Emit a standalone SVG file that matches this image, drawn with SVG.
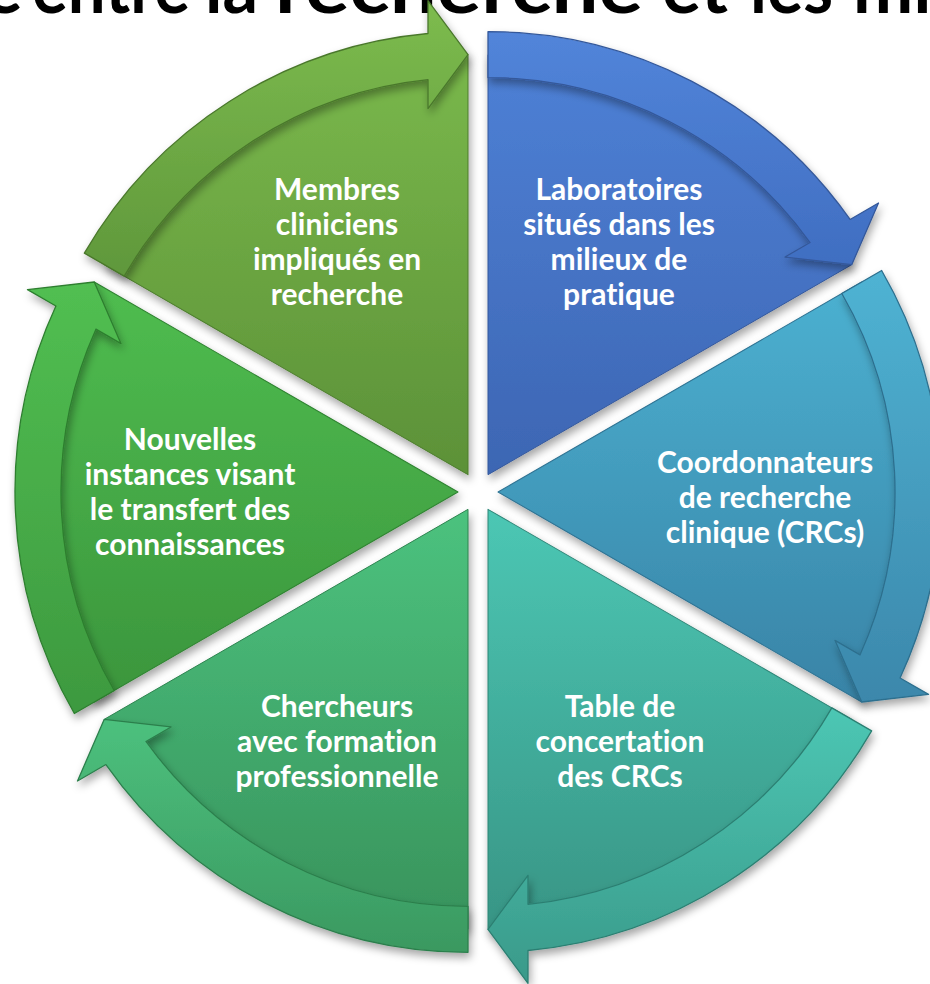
<svg xmlns="http://www.w3.org/2000/svg" width="930" height="984" viewBox="0 0 930 984">
<style>
.lbl{font-family:Lato,"Open Sans","DejaVu Sans",sans-serif;font-weight:bold;font-size:30px;fill:#ffffff;text-anchor:middle;font-variant-ligatures:none}
.title{font-family:Lato,"Liberation Sans",sans-serif;font-weight:bold;font-size:72px;fill:#000000;font-variant-ligatures:none}
.arr{stroke-width:1.3;stroke-linejoin:round}
.body{stroke-width:1;stroke-linejoin:round}
</style>
<defs>
<filter id="sh" x="-10%" y="-10%" width="125%" height="125%">
<feDropShadow dx="2" dy="5" stdDeviation="4" flood-color="#000" flood-opacity="0.35"/>
</filter>
<path id="wedge" d="M0,0 L0,-420 A420,420 0 0 1 363.73,-210 Z"/>
<path id="arrow" d="M0,-443 A443,443 0 0 1 362.08,-255.24 L390.5,-271.64 L363.73,-210 L296.97,-217.64 L322.06,-232.13 A397,397 0 0 0 0,-397 Z"/>
<linearGradient id="g0" gradientUnits="userSpaceOnUse" x1="0" y1="30" x2="0" y2="475" gradientTransform="rotate(0) translate(-488,-474.68)"><stop offset="0" stop-color="#4F82D8"/><stop offset="1" stop-color="#3D66B3"/></linearGradient>
<linearGradient id="a0" gradientUnits="userSpaceOnUse" x1="0" y1="30" x2="0" y2="275" gradientTransform="rotate(0) translate(-488,-474.68)"><stop offset="0" stop-color="#5285DA"/><stop offset="1" stop-color="#3F6DC0"/></linearGradient>
<linearGradient id="g1" gradientUnits="userSpaceOnUse" x1="0" y1="270" x2="0" y2="715" gradientTransform="rotate(-60) translate(-498,-492)"><stop offset="0" stop-color="#4CB2D2"/><stop offset="1" stop-color="#3882A5"/></linearGradient>
<linearGradient id="a1" gradientUnits="userSpaceOnUse" x1="0" y1="270" x2="0" y2="715" gradientTransform="rotate(-60) translate(-498,-492)"><stop offset="0" stop-color="#4FB3D3"/><stop offset="1" stop-color="#3B86AA"/></linearGradient>
<linearGradient id="g2" gradientUnits="userSpaceOnUse" x1="0" y1="510" x2="0" y2="930" gradientTransform="rotate(-120) translate(-488,-509.32)"><stop offset="0" stop-color="#4CC7B4"/><stop offset="1" stop-color="#389585"/></linearGradient>
<linearGradient id="a2" gradientUnits="userSpaceOnUse" x1="0" y1="700" x2="0" y2="980" gradientTransform="rotate(-120) translate(-488,-509.32)"><stop offset="0" stop-color="#4DC8B5"/><stop offset="1" stop-color="#3A9A8A"/></linearGradient>
<linearGradient id="g3" gradientUnits="userSpaceOnUse" x1="0" y1="510" x2="0" y2="930" gradientTransform="rotate(-180) translate(-468,-509.32)"><stop offset="0" stop-color="#4CC27E"/><stop offset="1" stop-color="#38935C"/></linearGradient>
<linearGradient id="a3" gradientUnits="userSpaceOnUse" x1="0" y1="700" x2="0" y2="955" gradientTransform="rotate(-180) translate(-468,-509.32)"><stop offset="0" stop-color="#4EC480"/><stop offset="1" stop-color="#3A9860"/></linearGradient>
<linearGradient id="g4" gradientUnits="userSpaceOnUse" x1="0" y1="270" x2="0" y2="715" gradientTransform="rotate(-240) translate(-458,-492)"><stop offset="0" stop-color="#50BE50"/><stop offset="1" stop-color="#3A943C"/></linearGradient>
<linearGradient id="a4" gradientUnits="userSpaceOnUse" x1="0" y1="270" x2="0" y2="715" gradientTransform="rotate(-240) translate(-458,-492)"><stop offset="0" stop-color="#52C052"/><stop offset="1" stop-color="#3D993F"/></linearGradient>
<linearGradient id="g5" gradientUnits="userSpaceOnUse" x1="0" y1="30" x2="0" y2="475" gradientTransform="rotate(-300) translate(-468,-474.68)"><stop offset="0" stop-color="#7BBA4C"/><stop offset="1" stop-color="#5C9138"/></linearGradient>
<linearGradient id="a5" gradientUnits="userSpaceOnUse" x1="0" y1="0" x2="0" y2="280" gradientTransform="rotate(-300) translate(-468,-474.68)"><stop offset="0" stop-color="#7DBC4E"/><stop offset="1" stop-color="#5F973B"/></linearGradient>
</defs>
<rect width="930" height="984" fill="#ffffff"/>

<text class="title" y="13"><tspan x="-16">e</tspan><tspan x="32" textLength="158" lengthAdjust="spacingAndGlyphs">entre</tspan><tspan x="205" textLength="53" lengthAdjust="spacingAndGlyphs">la</tspan><tspan x="275" textLength="368" lengthAdjust="spacingAndGlyphs">recherche</tspan><tspan x="662" textLength="66" lengthAdjust="spacingAndGlyphs">et</tspan><tspan x="750" textLength="83" lengthAdjust="spacingAndGlyphs">les</tspan><tspan x="853">milieux</tspan></text>

<g id="node-laboratoires">
<g filter="url(#sh)"><g transform="translate(488,474.68) rotate(0)"><use href="#wedge" class="body" fill="url(#g0)" stroke="#35599C"/></g></g>
<text class="lbl"><tspan x="619" y="200">Laboratoires</tspan><tspan x="619" y="235">situés dans les</tspan><tspan x="619" y="270">milieux de</tspan><tspan x="619" y="305">pratique</tspan></text>
</g>
<g id="node-coordonnateurs">
<g filter="url(#sh)"><g transform="translate(498,492) rotate(60)"><use href="#wedge" class="body" fill="url(#g1)" stroke="#2F7393"/></g></g>
<text class="lbl"><tspan x="765" y="473">Coordonnateurs</tspan><tspan x="765" y="508">de recherche</tspan><tspan x="765" y="543">clinique (CRCs)</tspan></text>
</g>
<g id="node-table">
<g filter="url(#sh)"><g transform="translate(488,509.32) rotate(120)"><use href="#wedge" class="body" fill="url(#g2)" stroke="#2F8577"/></g></g>
<text class="lbl"><tspan x="620" y="717">Table de</tspan><tspan x="620" y="752">concertation</tspan><tspan x="620" y="787">des CRCs</tspan></text>
</g>
<g id="node-chercheurs">
<g filter="url(#sh)"><g transform="translate(468,509.32) rotate(180)"><use href="#wedge" class="body" fill="url(#g3)" stroke="#2E8450"/></g></g>
<text class="lbl"><tspan x="337" y="717">Chercheurs</tspan><tspan x="337" y="752">avec formation</tspan><tspan x="337" y="787">professionnelle</tspan></text>
</g>
<g id="node-nouvelles">
<g filter="url(#sh)"><g transform="translate(458,492) rotate(240)"><use href="#wedge" class="body" fill="url(#g4)" stroke="#2F8331"/></g></g>
<text class="lbl"><tspan x="190" y="450">Nouvelles</tspan><tspan x="190" y="485">instances visant</tspan><tspan x="190" y="520">le transfert des</tspan><tspan x="190" y="555">connaissances</tspan></text>
</g>
<g id="node-membres">
<g filter="url(#sh)"><g transform="translate(468,474.68) rotate(300)"><use href="#wedge" class="body" fill="url(#g5)" stroke="#4E7D2F"/></g></g>
<text class="lbl"><tspan x="337" y="200">Membres</tspan><tspan x="337" y="235">cliniciens</tspan><tspan x="337" y="270">impliqués en</tspan><tspan x="337" y="305">recherche</tspan></text>
</g>

<g id="connectors">
<g filter="url(#sh)"><g transform="translate(488,474.68) rotate(0)"><use href="#arrow" class="arr" fill="url(#a0)" stroke="#34589A"/></g></g>
<g filter="url(#sh)"><g transform="translate(498,492) rotate(60)"><use href="#arrow" class="arr" fill="url(#a1)" stroke="#2D6F8E"/></g></g>
<g filter="url(#sh)"><g transform="translate(488,509.32) rotate(120)"><use href="#arrow" class="arr" fill="url(#a2)" stroke="#2C7F72"/></g></g>
<g filter="url(#sh)"><g transform="translate(468,509.32) rotate(180)"><use href="#arrow" class="arr" fill="url(#a3)" stroke="#2C7F4C"/></g></g>
<g filter="url(#sh)"><g transform="translate(458,492) rotate(240)"><use href="#arrow" class="arr" fill="url(#a4)" stroke="#2D7E2F"/></g></g>
<g filter="url(#sh)"><g transform="translate(468,474.68) rotate(300)"><use href="#arrow" class="arr" fill="url(#a5)" stroke="#4A782C"/></g></g>
</g>
</svg>
